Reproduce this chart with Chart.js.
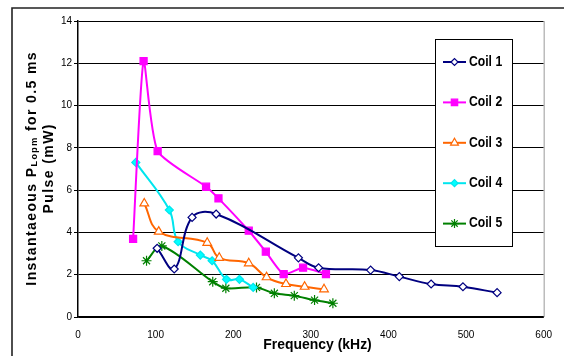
<!DOCTYPE html>
<html>
<head>
<meta charset="utf-8">
<script src="https://cdn.jsdelivr.net/npm/chart.js@4.4.0/dist/chart.umd.min.js"></script>
<style>
  html, body { margin: 0; padding: 0; background: #fff; }
  #wrap { width: 564px; height: 356px; }
</style>
</head>
<body>
<div id="wrap"><canvas id="chart" width="564" height="356"></canvas></div>
<script>
// data (frequency kHz, power mW)
const coilNames = ['Coil 1', 'Coil 2', 'Coil 3', 'Coil 4', 'Coil 5'];
const coil1Freq = [102, 124, 147, 178, 284, 310, 377, 414, 455, 496, 540];
const coil1Power = [3.25, 2.27, 4.71, 4.87, 2.80, 2.33, 2.22, 1.91, 1.56, 1.43, 1.15];
const coil2Freq = [71, 84.5, 102.6, 165, 181, 220, 242, 265, 290, 319.5];
const coil2Power = [3.69, 12.1, 7.85, 6.16, 5.61, 4.08, 3.09, 2.03, 2.33, 2.03];
const coil3Freq = [85.4, 104, 166.5, 182, 220, 243, 268, 292, 317];
const coil3Power = [5.37, 4.04, 3.51, 2.80, 2.54, 1.88, 1.56, 1.43, 1.31];
const coil4Freq = [74.5, 117.7, 129, 157.6, 172.8, 191.3, 208, 225.7];
const coil4Power = [7.31, 5.06, 3.56, 2.93, 2.66, 1.78, 1.78, 1.40];
const coil5Freq = [88.3, 108, 173.6, 190.5, 230, 253, 278.7, 304.8, 328.4];
const coil5Power = [2.66, 3.36, 1.67, 1.36, 1.40, 1.12, 1.01, 0.80, 0.65];
const xTicks = [0, 100, 200, 300, 400, 500, 600];
const yTicks = [0, 2, 4, 6, 8, 10, 12, 14];

const FONT = "'Liberation Sans', Arial, sans-serif";
const TICK_FONT = "'Liberation Sans Narrow', 'Liberation Sans', Arial, sans-serif";

function pts(xs, ys) { return xs.map((x, i) => ({ x: x, y: ys[i] })); }

function series(label, xs, ys, color, style, fill, radius, tension) {
  return {
    label, data: pts(xs, ys), showLine: true,
    borderColor: color, borderWidth: 2, tension: tension,
    pointStyle: style, pointRadius: radius, pointHoverRadius: radius,
    pointBackgroundColor: fill, pointBorderColor: color, pointBorderWidth: 1.2
  };
}

const datasets = [
  series(coilNames[0], coil1Freq, coil1Power, '#000080', 'rectRot', '#ffffff', 4, 0.4),
  series(coilNames[1], coil2Freq, coil2Power, '#ff00ff', 'rect', '#ff00ff', 5, 0.2),
  series(coilNames[2], coil3Freq, coil3Power, '#ff6600', 'triangle', '#ffffff', 5, 0.4),
  series(coilNames[3], coil4Freq, coil4Power, '#00e5ee', 'rectRot', '#00ffff', 4, 0.4),
  series(coilNames[4], coil5Freq, coil5Power, '#008000', 'star', '#008000', 5, 0.3)
];

// draw text one char at a time so letter spacing is exact
function spacedWidth(ctx, txt, ls) {
  let w = 0;
  for (const ch of txt) w += ctx.measureText(ch).width + ls;
  return w - ls;
}
function drawSpaced(ctx, txt, x, y, ls) {
  for (const ch of txt) { ctx.fillText(ch, x, y); x += ctx.measureText(ch).width + ls; }
  return x;
}

const decor = {
  id: 'decor',
  beforeDraw(chart) {
    const ctx = chart.ctx;
    ctx.save();
    ctx.fillStyle = '#fff';
    ctx.fillRect(0, 0, chart.width, chart.height);
    ctx.strokeStyle = '#222';
    ctx.lineWidth = 1.6;
    ctx.beginPath();
    ctx.moveTo(12, 356); ctx.lineTo(12, 8); ctx.lineTo(564, 8);
    ctx.stroke();
    ctx.restore();
  },
  afterDraw(chart) {
    const ctx = chart.ctx, a = chart.chartArea;
    ctx.save();
    // right edge of plot area
    ctx.strokeStyle = '#999';
    ctx.lineWidth = 1;
    ctx.beginPath();
    ctx.moveTo(a.right + 0.5, a.top); ctx.lineTo(a.right + 0.5, a.bottom);
    ctx.stroke();

    // x title
    ctx.fillStyle = '#000';
    ctx.textBaseline = 'middle';
    ctx.textAlign = 'center';
    ctx.save();
    ctx.translate(317.5, 345);
    ctx.scale(0.93, 1);
    ctx.font = 'bold 15px ' + FONT;
    ctx.fillText('Frequency (kHz)', 0, 0);
    ctx.restore();

    // y title, two lines with subscript
    ctx.textAlign = 'left';
    const ls = 1.4;
    ctx.save();
    ctx.translate(32, 169);
    ctx.rotate(-Math.PI / 2);
    const main = 'bold 14px ' + FONT, sub = 'bold 9px ' + FONT;
    ctx.font = main;
    const w1 = spacedWidth(ctx, 'Instantaeous P', ls) + ls;
    ctx.font = sub;
    const w2 = spacedWidth(ctx, 'Lopm', ls);
    ctx.font = main;
    const w3 = spacedWidth(ctx, ' for 0.5 ms', ls) + ls;
    let x = -(w1 + w2 + w3) / 2;
    x = drawSpaced(ctx, 'Instantaeous P', x, 0, ls);
    ctx.font = sub;
    x = drawSpaced(ctx, 'Lopm', x, 3, ls);
    ctx.font = main;
    drawSpaced(ctx, ' for 0.5 ms', x, 0, ls);
    ctx.restore();

    ctx.save();
    ctx.translate(49, 169);
    ctx.rotate(-Math.PI / 2);
    ctx.font = main;
    const wl2 = spacedWidth(ctx, 'Pulse (mW)', ls);
    drawSpaced(ctx, 'Pulse (mW)', -wl2 / 2, 0, ls);
    ctx.restore();

    // legend box
    ctx.fillStyle = '#fff';
    ctx.fillRect(435.5, 39.5, 77, 207);
    ctx.strokeStyle = '#000';
    ctx.lineWidth = 1;
    ctx.strokeRect(435.5, 39.5, 77, 207);
    chart.data.datasets.forEach((ds, i) => {
      const y = 62 + i * 40.4;
      ctx.strokeStyle = ds.borderColor;
      ctx.lineWidth = 2;
      ctx.beginPath();
      ctx.moveTo(443, y); ctx.lineTo(466, y);
      ctx.stroke();
      ctx.fillStyle = ds.pointBackgroundColor;
      ctx.strokeStyle = ds.pointBorderColor;
      ctx.lineWidth = ds.pointBorderWidth;
      Chart.helpers.drawPoint(ctx, { pointStyle: ds.pointStyle, radius: ds.pointRadius - 0.5, rotation: 0, borderWidth: ds.pointBorderWidth }, 454.5, y);
      ctx.save();
      ctx.translate(469, y);
      ctx.scale(0.87, 1);
      ctx.fillStyle = '#000';
      ctx.font = 'bold 14px ' + FONT;
      ctx.textBaseline = 'middle';
      ctx.fillText(ds.label, 0, 0);
      ctx.restore();
    });
    ctx.restore();
  }
};

new Chart(document.getElementById('chart'), {
  type: 'scatter',
  data: { datasets },
  options: {
    responsive: false,
    animation: false,
    events: [],
    layout: { padding: { left: 0, right: 10, top: 21, bottom: 0 } },
    plugins: { legend: { display: false }, tooltip: { enabled: false } },
    scales: {
      x: {
        type: 'linear', min: xTicks[0], max: xTicks[xTicks.length - 1],
        afterFit: s => { s.height = 39; },
        afterBuildTicks: s => { s.ticks = xTicks.map(v => ({ value: v })); },
        grid: { display: false, drawTicks: false },
        border: { display: true, color: '#000', width: 1.5 },
        ticks: { padding: 12, color: '#000', font: { family: TICK_FONT, size: 10 } }
      },
      y: {
        type: 'linear', min: yTicks[0], max: yTicks[yTicks.length - 1],
        afterFit: s => { s.width = 78; },
        afterBuildTicks: s => { s.ticks = yTicks.map(v => ({ value: v })); },
        grid: { color: '#000', lineWidth: 1, drawTicks: true, tickLength: 4 },
        border: { display: true, color: '#000', width: 1.5 },
        ticks: { padding: 2, color: '#000', font: { family: TICK_FONT, size: 10 } }
      }
    }
  },
  plugins: [decor]
});
</script>
</body>
</html>
